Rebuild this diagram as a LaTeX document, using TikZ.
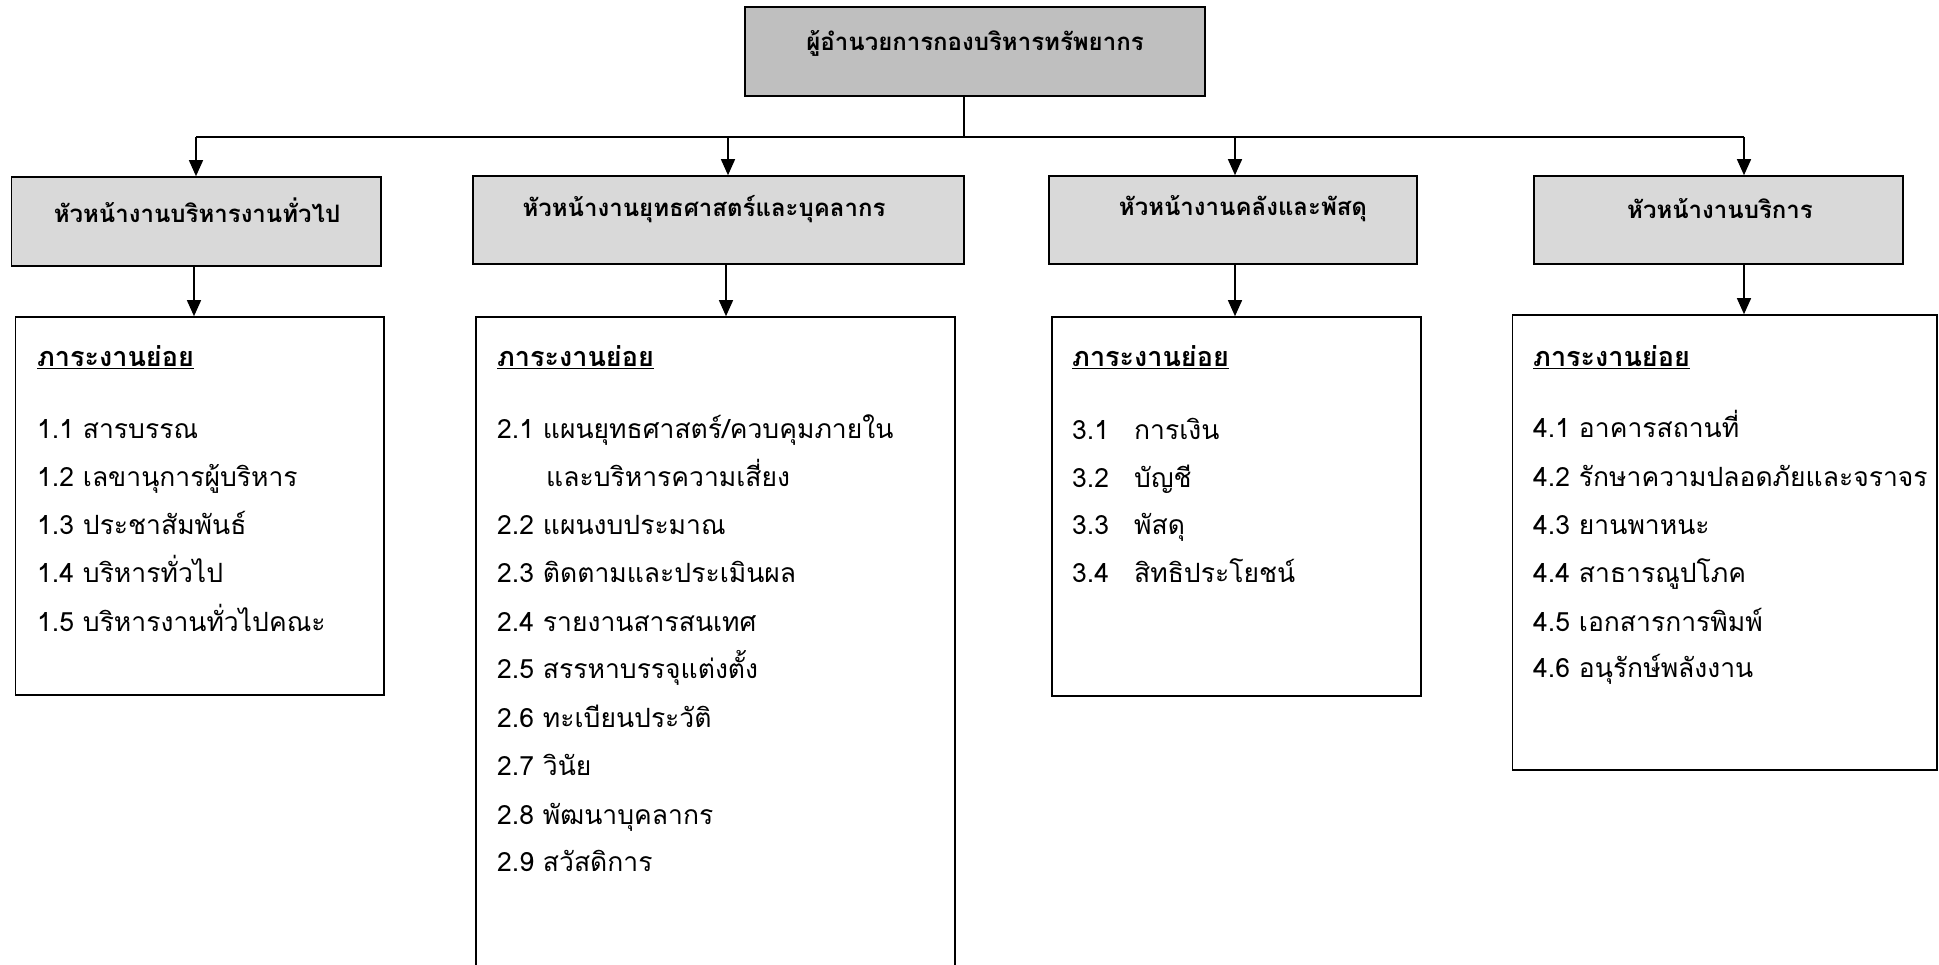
\documentclass[tikz,border=0pt]{standalone}
\usepackage{fontspec}
\setmainfont{Loma}[Script=Thai]
\usetikzlibrary{arrows.meta}
\definecolor{topgray}{HTML}{BFBFBF}
\definecolor{headgray}{HTML}{D9D9D9}
\tikzset{
  boxline/.style={draw=black, line width=1.6pt, inner sep=0pt},
  topbox/.style={boxline, fill=topgray},
  headbox/.style={boxline, fill=headgray},
  listbox/.style={boxline, fill=white},
  headtxt/.style={inner sep=0pt, font=\fontsize{24}{28}\selectfont\bfseries},
  itemtxt/.style={inner sep=0pt, anchor=mid west, yshift=-7pt, font=\fontsize{26.5}{30}\selectfont},
  subhead/.style={inner sep=0pt, anchor=mid west, yshift=-7pt, font=\fontsize{27}{30}\selectfont\bfseries},
  conn/.style={line width=1.4pt},
  arr/.style={line width=1.4pt, -{Triangle[width=14pt,length=16pt]}},
}
\begin{document}
\begin{tikzpicture}[x=1pt,y=-1pt]
\useasboundingbox (0,0) rectangle (1939,965);
% top box
\node[topbox, minimum width=460pt, minimum height=89pt] (top) at (975,51.5) {};
\node[headtxt] (topT) at (975,43) {ผู้อำนวยการกองบริหารทรัพยากร};
% level-2 boxes
\node[headbox, minimum width=369.5pt, minimum height=89pt] (hA) at (196.25,221.5) {};
\node[headbox, minimum width=491pt, minimum height=88pt] (hB) at (718.5,220) {};
\node[headbox, minimum width=368pt, minimum height=88pt] (hC) at (1233,220) {};
\node[headbox, minimum width=369pt, minimum height=88pt] (hD) at (1718.5,220) {};
\node[headtxt] (hAT) at (197,210) {หัวหน้างานบริหารงานทั่วไป};
\node[headtxt] (hBT) at (704,209) {หัวหน้างานยุทธศาสตร์และบุคลากร};
\node[headtxt] (hCT) at (1243,209) {หัวหน้างานคลังและพัสดุ};
\node[headtxt] (hDT) at (1720,209) {หัวหน้างานบริการ};
% level-3 boxes
\node[listbox, minimum width=368.5pt, minimum height=378pt] (lA) at (199.75,506) {};
\node[listbox, minimum width=479pt, minimum height=658pt] (lB) at (715.5,646) {};
\node[listbox, minimum width=369pt, minimum height=379pt] (lC) at (1236.5,506.5) {};
\node[listbox, minimum width=424.4pt, minimum height=455pt] (lD) at (1724.8,542.5) {};
% bus
\coordinate (busM) at (964,137);
\coordinate (busA) at (196,137);
\coordinate (busB) at (728,137);
\coordinate (busC) at (1235,137);
\coordinate (busD) at (1744,137);
\draw[conn] (busM |- top.south) -- (busM);
\draw[conn] (busA) -- (busD);
\draw[arr] (busA) -- (busA |- hA.north);
\draw[arr] (busB) -- (busB |- hB.north);
\draw[arr] (busC) -- (busC |- hC.north);
\draw[arr] (busD) -- (busD |- hD.north);
% down arrows
\coordinate (dA) at (194,0);
\coordinate (dB) at (726,0);
\coordinate (dC) at (1235,0);
\coordinate (dD) at (1744,0);
\draw[arr] (dA |- hA.south) -- (dA |- lA.north);
\draw[arr] (dB |- hB.south) -- (dB |- lB.north);
\draw[arr] (dC |- hC.south) -- (dC |- lC.north);
\draw[arr] (dD |- hD.south) -- (dD |- lD.north);
% list A
\node[subhead] (sA) at (37,357) {\underline{ภาระงานย่อย}};
\node[itemtxt] (a1) at (37,429) {1.1 สารบรรณ};
\node[itemtxt] (a2) at (37,477) {1.2 เลขานุการผู้บริหาร};
\node[itemtxt] (a3) at (37,525) {1.3 ประชาสัมพันธ์};
\node[itemtxt] (a4) at (37,573) {1.4 บริหารทั่วไป};
\node[itemtxt] (a5) at (37,622) {1.5 บริหารงานทั่วไปคณะ};
% list B
\node[subhead] (sB) at (497,357) {\underline{ภาระงานย่อย}};
\node[itemtxt] (b1) at (497,429) {2.1 แผนยุทธศาสตร์/ควบคุมภายใน};
\node[itemtxt] (b1b) at (546,477) {และบริหารความเสี่ยง};
\node[itemtxt] (b2) at (497,525) {2.2 แผนงบประมาณ};
\node[itemtxt] (b3) at (497,573) {2.3 ติดตามและประเมินผล};
\node[itemtxt] (b4) at (497,622) {2.4 รายงานสารสนเทศ};
\node[itemtxt] (b5) at (497,669) {2.5 สรรหาบรรจุแต่งตั้ง};
\node[itemtxt] (b6) at (497,718) {2.6 ทะเบียนประวัติ};
\node[itemtxt] (b7) at (497,766) {2.7 วินัย};
\node[itemtxt] (b8) at (497,815) {2.8 พัฒนาบุคลากร};
\node[itemtxt] (b9) at (497,862) {2.9 สวัสดิการ};
% list C
\node[subhead] (sC) at (1072,357) {\underline{ภาระงานย่อย}};
\node[itemtxt] (c1) at (1072,430) {\makebox[62pt][l]{3.1}การเงิน};
\node[itemtxt] (c2) at (1072,478) {\makebox[62pt][l]{3.2}บัญชี};
\node[itemtxt] (c3) at (1072,525) {\makebox[62pt][l]{3.3}พัสดุ};
\node[itemtxt] (c4) at (1072,573) {\makebox[62pt][l]{3.4}สิทธิประโยชน์};
% list D
\node[subhead] (sD) at (1533,357) {\underline{ภาระงานย่อย}};
\node[itemtxt] (d1) at (1533,428) {4.1 อาคารสถานที่};
\node[itemtxt] (d2) at (1533,477) {4.2 รักษาความปลอดภัยและจราจร};
\node[itemtxt] (d3) at (1533,525) {4.3 ยานพาหนะ};
\node[itemtxt] (d4) at (1533,573) {4.4 สาธารณูปโภค};
\node[itemtxt] (d5) at (1533,622) {4.5 เอกสารการพิมพ์};
\node[itemtxt] (d6) at (1533,668) {4.6 อนุรักษ์พลังงาน};
\end{tikzpicture}
\end{document}
